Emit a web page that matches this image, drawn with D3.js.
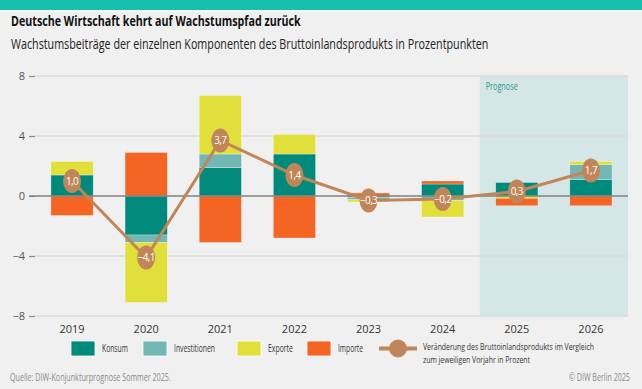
<!DOCTYPE html>
<html>
<head>
<meta charset="utf-8">
<script src="https://cdn.jsdelivr.net/npm/d3@7"></script>
<style>
  html, body { margin: 0; padding: 0; background: #f0f0f0; }
  svg { display: block; font-family: 'Open Sans', 'Noto Sans', sans-serif; }
</style>
</head>
<body>
<svg id="chart" width="642" height="389"></svg>
<script>
const years = ['2019', '2020', '2021', '2022', '2023', '2024', '2025', '2026'];
const konsum = [1.4, -2.6, 1.9, 2.8, -0.1, 0.8, 0.9, 1.1];
const investitionen = [0.0, -0.5, 0.9, 0.0, -0.15, -0.3, 0.0, 1.0];
const exporte = [0.9, -4.0, 3.9, 1.3, -0.15, -1.1, -0.15, 0.2];
const importe = [-1.3, 2.9, -3.1, -2.8, 0.2, 0.2, -0.5, -0.65];
const bip = [1.0, -4.1, 3.7, 1.4, -0.3, -0.2, 0.3, 1.7];
const prognoseYears = ['2025', '2026'];
const yTicks = [-8, -4, 0, 4, 8];

const seriesKeys = ['Konsum', 'Investitionen', 'Exporte', 'Importe'];
const seriesValues = [konsum, investitionen, exporte, importe];
const colors = {
  Konsum: '#008a7c',
  Investitionen: '#72b7b3',
  Exporte: '#e1e03a',
  Importe: '#f46524'
};
const lineColor = '#c08659';

const rows = years.map((y, i) => {
  const r = { year: y };
  seriesKeys.forEach((k, j) => r[k] = seriesValues[j][i]);
  return r;
});

const svg = d3.select('#chart');
const W = 642, H = 389;
const plot = { left: 35, right: 628, top: 76, bottom: 316 };

// condensed-looking text: squeeze horizontally to a target width
function fitText(parent, str, x0, y0, width, opts) {
  const t = parent.append('text')
    .attr('font-size', opts.size)
    .attr('fill', opts.fill)
    .attr('font-weight', opts.weight || 400)
    .text(str);
  const natural = t.node().getComputedTextLength();
  const s = width / natural;
  t.attr('transform', `translate(${x0},${y0}) scale(${s},1)`);
  return t;
}

// background + header band
svg.append('rect').attr('width', W).attr('height', H).attr('fill', '#f0f0f0');
svg.append('rect').attr('width', W).attr('height', 10).attr('fill', '#17bfae');
svg.append('rect').attr('y', 10).attr('width', W).attr('height', 1.5).attr('fill', '#ffffff');

fitText(svg, 'Deutsche Wirtschaft kehrt auf Wachstumspfad zurück', 11, 26, 290,
  { size: 15, fill: '#111', weight: 700 });
fitText(svg, 'Wachstumsbeiträge der einzelnen Komponenten des Bruttoinlandsprodukts in Prozentpunkten', 11, 49, 478,
  { size: 14, fill: '#222' });

const x = d3.scaleBand()
  .domain(years)
  .range([plot.left, plot.right])
  .paddingInner(0.43)
  .paddingOuter(0.215);

const y = d3.scaleLinear()
  .domain([-8, 8])
  .range([plot.bottom, plot.top]);

// Prognose region
const pStart = x(prognoseYears[0]) - x.step() * x.paddingInner() / 2;
svg.append('rect')
  .attr('x', pStart).attr('y', y(8))
  .attr('width', plot.right - pStart).attr('height', y(-8) - y(8))
  .attr('fill', '#d4e6e5');
fitText(svg, 'Prognose', pStart + 6, 90, 32, { size: 10.5, fill: '#2a9a8d' });

// grid
svg.append('g')
  .selectAll('line')
  .data(yTicks.filter(d => d !== 0))
  .join('line')
  .attr('x1', plot.left).attr('x2', plot.right)
  .attr('y1', d => y(d)).attr('y2', d => y(d))
  .attr('stroke', '#dadada').attr('stroke-width', 1.5);

// y axis
const yAxis = svg.append('g')
  .attr('transform', `translate(${plot.left},0)`)
  .call(d3.axisLeft(y).tickValues(yTicks).tickSize(6).tickPadding(4)
    .tickFormat(d => d < 0 ? '\u2212' + Math.abs(d) : d));
yAxis.select('.domain').remove();
yAxis.selectAll('line').attr('stroke', '#8a8a8a').attr('stroke-width', 1.2);
yAxis.selectAll('text').attr('fill', '#555').attr('font-size', 11)
  .attr('font-family', "'Open Sans', sans-serif");

// stacked bars
const stack = d3.stack().keys(seriesKeys).offset(d3.stackOffsetDiverging);
const stacked = stack(rows);

svg.append('g')
  .selectAll('g')
  .data(stacked)
  .join('g')
  .attr('fill', d => colors[d.key])
  .selectAll('rect')
  .data(d => d)
  .join('rect')
  .attr('x', d => x(d.data.year))
  .attr('width', x.bandwidth())
  .attr('y', d => y(Math.max(d[0], d[1])))
  .attr('height', d => Math.abs(y(d[0]) - y(d[1])))
  .attr('stroke', '#ffffff').attr('stroke-opacity', 0.5).attr('stroke-width', 0.6);

// zero line
svg.append('line')
  .attr('x1', plot.left - 6).attr('x2', plot.right)
  .attr('y1', y(0)).attr('y2', y(0))
  .attr('stroke', '#808080').attr('stroke-width', 1.3);

// x axis labels
const xAxis = svg.append('g')
  .attr('transform', `translate(0,${plot.bottom})`)
  .call(d3.axisBottom(x).tickSize(0).tickPadding(9));
xAxis.select('.domain').remove();
xAxis.selectAll('text').attr('fill', '#333').attr('font-size', 11)
  .attr('font-family', "'Open Sans', sans-serif");

// BIP line
const cx = d => x(d.year) + x.bandwidth() / 2;
const bipPts = years.map((yr, i) => ({ year: yr, v: bip[i] }));
svg.append('path')
  .datum(bipPts)
  .attr('d', d3.line().x(cx).y(d => y(d.v)))
  .attr('fill', 'none')
  .attr('stroke', lineColor)
  .attr('stroke-width', 3);

const fmt = v => (v < 0 ? '\u2212' : '') + Math.abs(v).toFixed(1).replace('.', ',');
const pts = svg.append('g').selectAll('g').data(bipPts).join('g')
  .attr('transform', d => `translate(${cx(d)},${y(d.v)})`);
pts.append('ellipse').attr('rx', 9).attr('ry', 12).attr('fill', lineColor);
pts.append('text')
  .attr('text-anchor', 'middle').attr('dy', 3.5)
  .attr('font-size', 10).attr('fill', '#fff')
  .attr('font-family', "'Open Sans', sans-serif")
  .attr('letter-spacing', -0.6)
  .text(d => fmt(d.v));

// legend
const legendItems = [
  { key: 'Konsum', x: 71, tw: 26 },
  { key: 'Investitionen', x: 143, tw: 41 },
  { key: 'Exporte', x: 237, tw: 25 },
  { key: 'Importe', x: 307, tw: 25 }
];
const lg = svg.append('g');
legendItems.forEach(it => {
  lg.append('rect').attr('x', it.x).attr('y', 341).attr('width', 24).attr('height', 15)
    .attr('fill', colors[it.key]).attr('stroke', '#fff').attr('stroke-width', 0.8);
  fitText(lg, it.key, it.x + 31, 352, it.tw, { size: 10, fill: '#333' });
});
lg.append('line').attr('x1', 379).attr('x2', 417).attr('y1', 348.5).attr('y2', 348.5)
  .attr('stroke', lineColor).attr('stroke-width', 4);
lg.append('ellipse').attr('cx', 398).attr('cy', 348.5).attr('rx', 9).attr('ry', 9)
  .attr('fill', lineColor);
fitText(lg, 'Veränderung des Bruttoinlandsprodukts im Vergleich', 423, 350, 171, { size: 9.2, fill: '#333' });
fitText(lg, 'zum jeweiligen Vorjahr in Prozent', 423, 362.5, 107, { size: 9.2, fill: '#333' });

// footer
fitText(svg, 'Quelle: DIW-Konjunkturprognose Sommer 2025.', 10, 381, 161, { size: 10, fill: '#8a8a8a' });
fitText(svg, '© DIW Berlin 2025', 569, 381, 61, { size: 10, fill: '#8a8a8a' });
</script>
</body>
</html>
